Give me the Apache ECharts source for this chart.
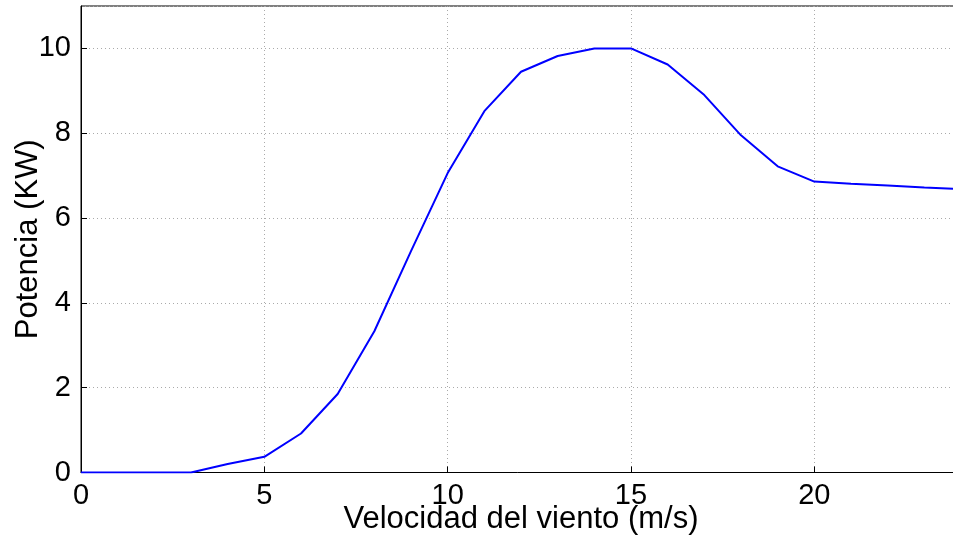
<!DOCTYPE html>
<html>
<head>
<meta charset="utf-8">
<script src="https://cdn.jsdelivr.net/npm/echarts@6/dist/echarts.min.js"></script>
<style>html,body{margin:0;padding:0;background:#fff;}#c{width:953px;height:537px;}</style>
</head>
<body>
<div id="c"></div>
<script>
const windSpeed = [0,1,2,3,4,5,6,7,8,9,10,11,12,13,14,15,16,17,18,19,20,21,22,23,24];
const power = [0,0,0,0,0.2,0.37,0.92,1.85,3.33,5.22,7.06,8.52,9.45,9.82,10,10,9.62,8.9,7.95,7.22,6.86,6.81,6.77,6.72,6.68];
const xTitle = 'Velocidad del viento (m/s)';
const yTitle = 'Potencia (KW)';

const chart = echarts.init(document.getElementById('c'), null, {renderer:'canvas'});
const font = 'Liberation Sans, Arial, Helvetica, sans-serif';
const gridLine = {show:true, lineStyle:{color:'#aaaaaa', type:[1,3], width:1}};
chart.setOption({
  animation:false,
  backgroundColor:'#ffffff',
  grid:{left:81, top:6, right:-8, bottom:64.5, show:true, borderColor:'#000', borderWidth:1,
        containLabel:false, outerBoundsMode:'none'},
  xAxis:{
    type:'value', min:0, max:24, interval:5,
    name:xTitle, nameLocation:'middle', nameGap:31, nameMoveOverlap:false,
    nameTextStyle:{fontFamily:font, fontSize:31, color:'#000'},
    axisLine:{show:true, onZero:false, lineStyle:{color:'#000', width:1}},
    axisTick:{show:true, inside:true, length:6, lineStyle:{color:'#000'}},
    axisLabel:{fontFamily:font, fontSize:29, color:'#000', margin:9, showMaxLabel:false},
    splitLine:gridLine
  },
  yAxis:{
    type:'value', min:0, max:11, interval:2,
    name:yTitle, nameLocation:'middle', nameGap:37, nameMoveOverlap:false,
    nameTextStyle:{fontFamily:font, fontSize:31, color:'#000'},
    axisLine:{show:true, lineStyle:{color:'#000', width:1}},
    axisTick:{show:true, inside:true, length:6, lineStyle:{color:'#000'}},
    axisLabel:{fontFamily:font, fontSize:29, color:'#000', margin:10, showMaxLabel:false},
    splitLine:gridLine
  },
  series:[{
    type:'line',
    data:windSpeed.map((x,i)=>[x, power[i]]),
    showSymbol:false, symbol:'none',
    lineStyle:{color:'#0000ff', width:2},
    itemStyle:{color:'#0000ff'},
    clip:true
  }]
});
</script>
</body>
</html>
